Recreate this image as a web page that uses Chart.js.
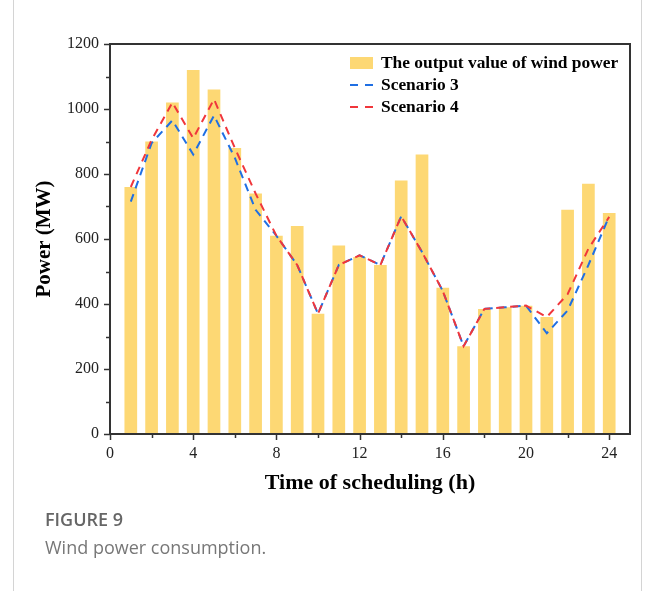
<!DOCTYPE html>
<html>
<head>
<meta charset="utf-8">
<script src="https://cdn.jsdelivr.net/npm/chart.js@4.4.1/dist/chart.umd.min.js"></script>
<style>
html,body{margin:0;padding:0;background:#fff;}
#wrap{position:relative;width:656px;height:591px;overflow:hidden;background:#fff;}
#frame{position:absolute;left:13px;top:0;width:629px;height:591px;border-left:1px solid #d4d4d4;border-right:1px solid #d4d4d4;box-sizing:border-box;}
#c{position:absolute;left:0;top:0;}
#cap1{position:absolute;left:45px;top:507px;font:600 18px "Open Sans",sans-serif;color:#666;letter-spacing:0px;}
#cap2{position:absolute;left:45px;top:535px;font:400 18px "Open Sans",sans-serif;color:#777;}
</style>
</head>
<body>
<div id="wrap">
  <div id="frame"></div>
  <canvas id="c" width="656" height="591"></canvas>
  <div id="cap1">FIGURE 9</div>
  <div id="cap2">Wind power consumption.</div>
</div>
<script>
// ---- data ----
const hours = [1,2,3,4,5,6,7,8,9,10,11,12,13,14,15,16,17,18,19,20,21,22,23,24];
const windOutput = [760,900,1020,1120,1060,880,740,610,640,370,580,545,520,780,860,450,270,385,390,395,360,690,770,680];
const scenario3 = [715,895,965,860,980,850,690,610,520,370,520,550,520,670,560,440,270,385,390,395,310,380,520,670];
const scenario4 = [760,905,1020,910,1030,880,740,610,520,370,520,550,520,670,560,440,270,385,390,395,360,430,570,668];
const xTickLabels = [0,4,8,12,16,20,24];
const xMinorTicks = [0,2,4,6,8,10,12,14,16,18,20,22,24];
const yTickLabels = [0,200,400,600,800,1000,1200];
const seriesNames = ['The output value of wind power','Scenario 3','Scenario 4'];

const BAR_COLOR = '#FDD874';
const BLUE = '#1F6FE3';
const RED = '#F0363B';
const AXIS = '#333333';

const toXY = arr => hours.map((h, i) => ({x: h, y: arr[i]}));

const framePlugin = {
  id: 'frameTicks',
  afterDatasetsDraw(chart) {
    const {ctx, chartArea: a, scales} = chart;
    ctx.save();
    ctx.strokeStyle = AXIS;
    ctx.lineWidth = 1.5;
    scales.x.ticks.forEach(t => {
      const px = Math.round(scales.x.getPixelForValue(t.value)) + 0.5;
      const len = xTickLabels.includes(t.value) ? 6 : 4;
      ctx.beginPath(); ctx.moveTo(px, a.bottom); ctx.lineTo(px, a.bottom + len); ctx.stroke();
    });
    scales.y.ticks.forEach(t => {
      const py = Math.round(scales.y.getPixelForValue(t.value)) + 0.5;
      const len = yTickLabels.includes(t.value) ? 6 : 4;
      ctx.beginPath(); ctx.moveTo(a.left, py); ctx.lineTo(a.left - len, py); ctx.stroke();
    });
    ctx.lineWidth = 2;
    ctx.strokeRect(a.left, a.top, a.right - a.left, a.bottom - a.top);
    ctx.restore();
  }
};

const legendPlugin = {
  id: 'insideLegend',
  afterDatasetsDraw(chart) {
    const {ctx, chartArea: a} = chart;
    const x0 = a.right - 280;
    const rowY = [a.top + 19, a.top + 41, a.top + 63];
    ctx.save();
    ctx.fillStyle = BAR_COLOR;
    ctx.fillRect(x0, rowY[0] - 6, 23, 12);
    [[BLUE, rowY[1]], [RED, rowY[2]]].forEach(([c, y]) => {
      ctx.strokeStyle = c; ctx.lineWidth = 2; ctx.setLineDash([8, 7]);
      ctx.beginPath(); ctx.moveTo(x0, y); ctx.lineTo(x0 + 25, y); ctx.stroke();
    });
    ctx.setLineDash([]);
    ctx.fillStyle = '#000';
    ctx.font = 'bold 17.4px "Liberation Serif"';
    ctx.textBaseline = 'middle';
    ctx.textAlign = 'left';
    seriesNames.forEach((n, i) => ctx.fillText(n, x0 + 31, rowY[i] + 1));
    ctx.restore();
  }
};

new Chart(document.getElementById('c'), {
  type: 'bar',
  data: {
    datasets: [
      {type: 'line', label: seriesNames[2], data: toXY(scenario4), borderColor: RED, borderWidth: 2,
       borderDash: [8, 6], pointRadius: 0, fill: false, tension: 0, order: 1},
      {type: 'line', label: seriesNames[1], data: toXY(scenario3), borderColor: BLUE, borderWidth: 2,
       borderDash: [8, 6], pointRadius: 0, fill: false, tension: 0, order: 1},
      {type: 'bar', label: seriesNames[0], data: toXY(windOutput), backgroundColor: BAR_COLOR,
       borderWidth: 0, categoryPercentage: 1, barPercentage: 0.61, order: 2}
    ]
  },
  options: {
    responsive: false,
    animation: false,
    devicePixelRatio: 1,
    layout: {padding: {left: 32, right: 26, top: 44, bottom: 94}},
    plugins: {legend: {display: false}, tooltip: {enabled: false}},
    scales: {
      x: {
        type: 'linear', min: 0, max: 25, offset: false,
        afterBuildTicks: s => { s.ticks = xMinorTicks.map(v => ({value: v})); },
        afterFit: s => { s.height = 63; },
        grid: {display: true, drawOnChartArea: false, drawTicks: false},
        border: {display: false},
        ticks: {
          autoSkip: false, maxRotation: 0, padding: 10, color: '#222',
          font: {family: 'Liberation Serif', size: 16},
          callback: v => xTickLabels.includes(v) ? String(v) : ''
        },
        title: {display: true, text: 'Time of scheduling (h)', color: '#000',
          font: {family: 'Liberation Serif', size: 22, weight: 'bold'}, padding: {top: 0, bottom: 0}}
      },
      y: {
        min: 0, max: 1200,
        afterFit: s => { s.width = 78; },
        grid: {display: true, drawOnChartArea: false, drawTicks: false},
        border: {display: false},
        ticks: {
          stepSize: 100, autoSkip: false, padding: 11, color: '#222',
          font: {family: 'Liberation Serif', size: 16},
          callback: v => yTickLabels.includes(v) ? String(v) : ''
        },
        title: {display: true, text: 'Power (MW)', color: '#000',
          font: {family: 'Liberation Serif', size: 21, weight: 'bold'}, padding: {top: 0, bottom: 0}}
      }
    }
  },
  plugins: [framePlugin, legendPlugin]
});
</script>
</body>
</html>
